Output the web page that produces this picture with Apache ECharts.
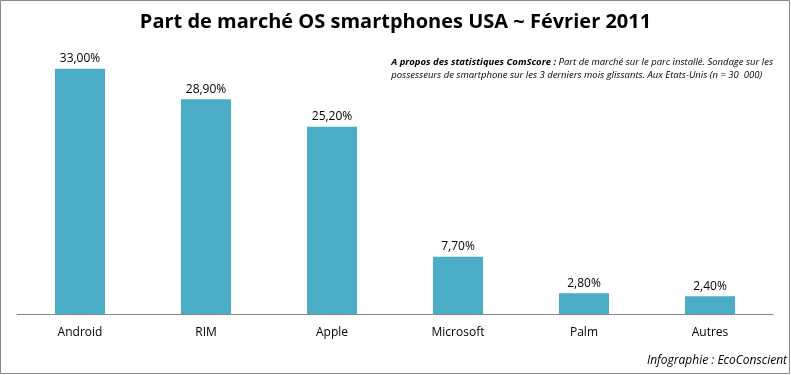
<!DOCTYPE html>
<html>
<head>
<meta charset="utf-8">
<script src="https://cdn.jsdelivr.net/npm/echarts@6/dist/echarts.min.js"></script>
<style>
  html, body { margin: 0; padding: 0; background: #fff; }
  #chart { width: 791px; height: 375px; }
</style>
</head>
<body>
<div id="chart"></div>
<script>
const categories = ["Android", "RIM", "Apple", "Microsoft", "Palm", "Autres"];
const shares = [33.0, 28.9, 25.2, 7.7, 2.8, 2.4];

const font = "'Open Sans', 'Noto Sans', sans-serif";

function fmt(v) {
  return v.toFixed(2).replace(".", ",") + "%";
}

const chart = echarts.init(document.getElementById("chart"), null, { renderer: "canvas" });
chart.setOption({
  animation: false,
  backgroundColor: "#fff",
  title: {
    text: "Part de marché OS smartphones USA ~ Février 2011",
    left: "center",
    top: 7,
    textStyle: { fontFamily: font, fontSize: 20, fontWeight: "bold", color: "#000" },
  },
  grid: { left: 17, right: 18, top: 54, bottom: 61 },
  xAxis: {
    type: "category",
    data: categories,
    axisTick: { show: false },
    axisLine: { lineStyle: { color: "#868686", width: 1 } },
    axisLabel: { color: "#000", fontFamily: font, fontSize: 12, margin: 13 },
  },
  yAxis: {
    type: "value",
    min: 0,
    max: 35,
    show: false,
    splitLine: { show: false },
  },
  series: [
    {
      type: "bar",
      data: shares,
      barWidth: 50,
      itemStyle: { color: "#4BACC6" },
      label: {
        show: true,
        position: "top",
        distance: 4,
        color: "#000",
        fontFamily: font,
        fontSize: 12,
        formatter: (p) => fmt(p.value),
      },
    },
  ],
  graphic: [
    {
      type: "rect",
      shape: { x: 0.5, y: 0.5, width: 789, height: 373 },
      style: { fill: null, stroke: "#868686", lineWidth: 1 },
      silent: true,
    },
    {
      type: "text",
      right: 18,
      top: 56,
      style: {
        text: "{b|A propos des statistiques ComScore :} Part de marché sur le parc installé. Sondage sur les\npossesseurs de smartphone sur les 3 derniers mois glissants. Aux Etats-Unis (n = 30  000)",
        align: "right",
        fontFamily: font,
        fontStyle: "italic",
        fontSize: 9.5,
        lineHeight: 13,
        fill: "#000",
        rich: {
          b: { fontWeight: "bold", fontStyle: "italic", fontFamily: font, fontSize: 9.5 },
        },
      },
    },
    {
      type: "text",
      right: 4,
      top: 355,
      style: {
        text: "Infographie : EcoConscient",
        fontFamily: font,
        fontStyle: "italic",
        fontSize: 12,
        fill: "#000",
      },
    },
  ],
});
</script>
</body>
</html>
